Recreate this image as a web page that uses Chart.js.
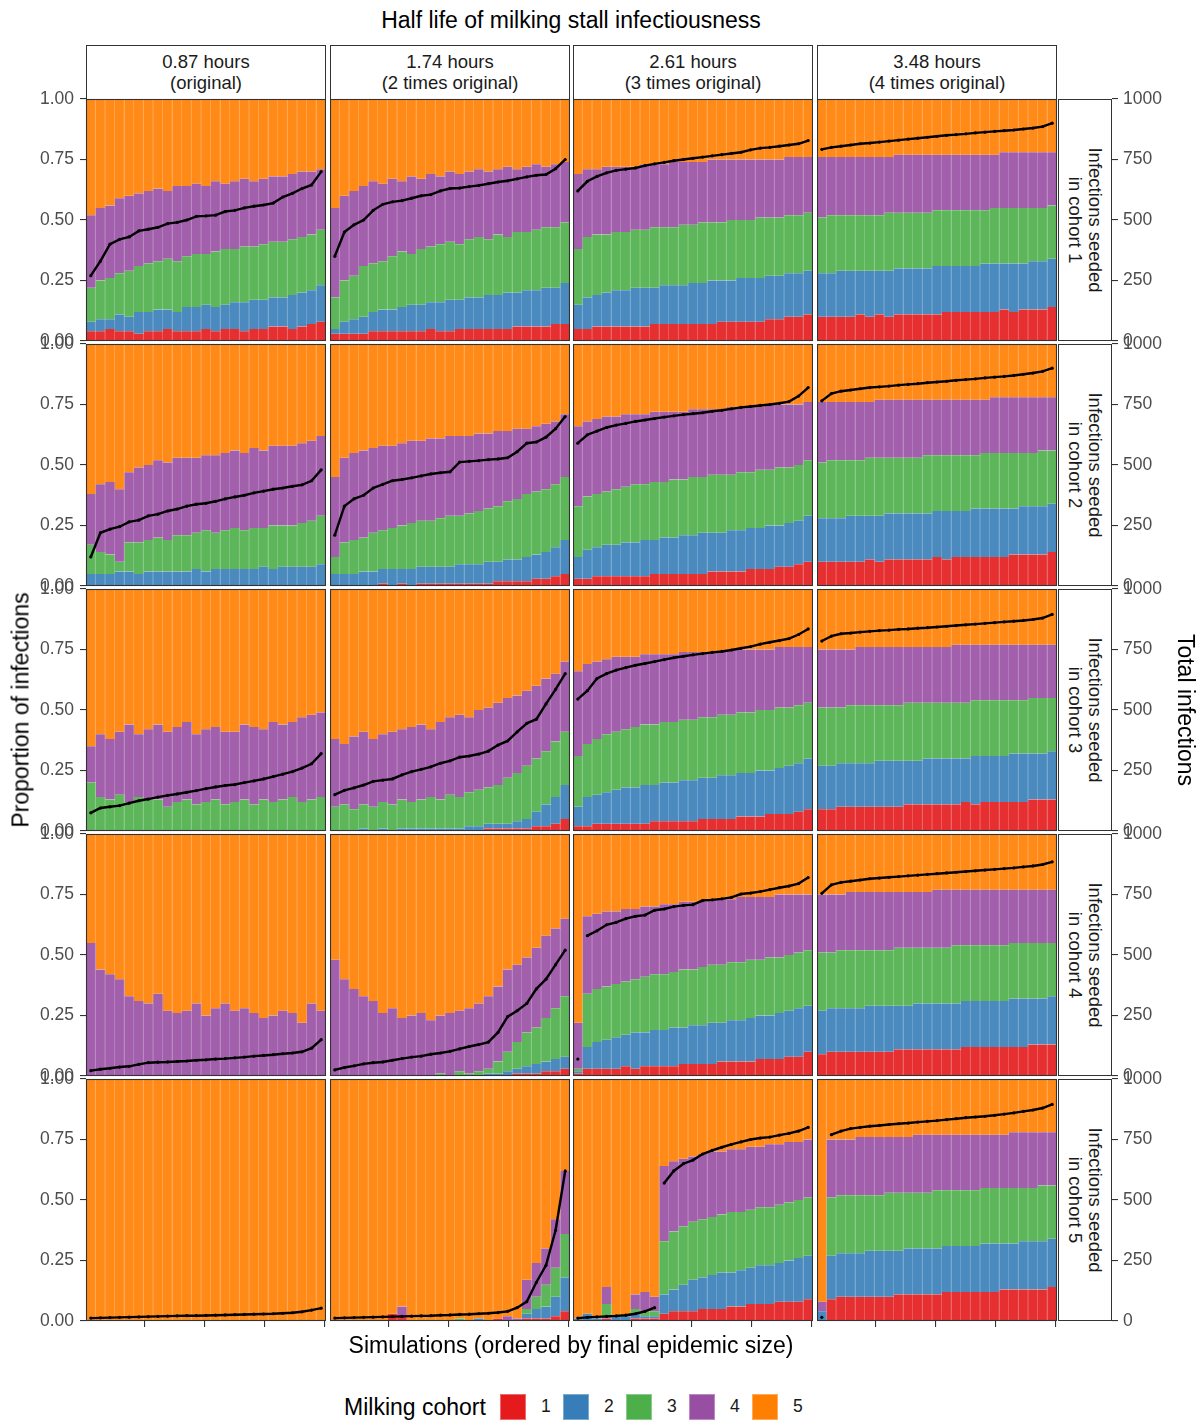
<!DOCTYPE html>
<html>
<head>
<meta charset="utf-8">
<title>Half life of milking stall infectiousness</title>
<script src="https://cdn.jsdelivr.net/npm/chart.js@4.4.1/dist/chart.umd.min.js"></script>
<style>
  body { margin: 0; background: #fff; font-family: "Liberation Sans", Arial, Helvetica, sans-serif; }
  #page { position: relative; width: 1202px; height: 1421px; overflow: hidden; background: #fff; }
  #page canvas { position: absolute; }
  .txt { position: absolute; white-space: nowrap; color: #000; line-height: 1; }
  .strip { position: absolute; box-sizing: border-box; border: 1px solid #333; background: #fff;
           color: #1a1a1a; font-size: 18.5px; line-height: 20.5px; text-align: center;
           display: flex; flex-direction: column; align-items: center; justify-content: center; }
  .rowtxt { position: absolute; width: 242px; height: 54px; color: #1a1a1a; font-size: 18.5px;
            line-height: 20.5px; text-align: center; display: flex; flex-direction: column;
            align-items: center; justify-content: center; transform: translate(-50%, -50%) rotate(90deg); }
  .swatch { position: absolute; width: 26px; height: 26px; box-sizing: border-box; }
</style>
</head>
<body>
<div id="page"></div>
<script>
// facet labels
const colLabels = [['0.87 hours', '(original)'], ['1.74 hours', '(2 times original)'],
                   ['2.61 hours', '(3 times original)'], ['3.48 hours', '(4 times original)']];
const rowLabels = [['Infections seeded', 'in cohort 1'], ['Infections seeded', 'in cohort 2'],
                   ['Infections seeded', 'in cohort 3'], ['Infections seeded', 'in cohort 4'],
                   ['Infections seeded', 'in cohort 5']];
const cohorts = ['1', '2', '3', '4', '5'];

// simulations, grouped in blocks of four (block centres on the 1..100 scale)
const blockSims = [2.5, 6.5, 10.5, 14.5, 18.5, 22.5, 26.5, 30.5, 34.5, 38.5, 42.5, 46.5, 50.5,
                   54.5, 58.5, 62.5, 66.5, 70.5, 74.5, 78.5, 82.5, 86.5, 90.5, 94.5, 98.5];
const xTickSims = [25, 50, 75, 100];
const propTicks = [0, 25, 50, 75, 100];
const propTickLabels = ['0.00', '0.25', '0.50', '0.75', '1.00'];
const totalTicks = [0, 250, 500, 750, 1000];
const totalTickLabels = ['0', '250', '500', '750', '1000'];

// cumulative share (%) at the top of cohorts 1..4, and total infections
// row 1: seeded in cohort 1
const r1c1Top1 = [4,4,5,4,4,3,4,4,5,4,4,4,5,4,5,5,4,5,5,6,6,5,6,7,8];
const r1c1Top2 = [8,9,9,11,10,12,12,13,13,12,14,14,15,14,15,16,16,17,17,18,18,19,20,21,23];
const r1c1Top3 = [22,25,26,28,29,31,32,33,34,33,35,36,36,37,38,38,39,39,40,41,41,42,43,44,46];
const r1c1Top4 = [52,55,56,59,60,61,62,63,62,64,64,65,64,66,65,66,67,66,67,68,68,69,70,70,71];
const r1c1Total = [270,330,400,420,430,455,462,470,485,490,500,515,517,520,535,540,550,557,562,570,595,610,630,645,700];

const r1c2Top1 = [3,3,3,3,4,4,4,4,4,4,5,4,4,5,5,5,5,5,5,6,6,6,6,7,7];
const r1c2Top2 = [5,8,9,10,12,13,13,14,15,15,16,16,17,17,18,18,19,19,20,20,21,21,22,22,24];
const r1c2Top3 = [18,25,27,31,32,33,35,37,36,38,39,40,41,40,42,43,42,44,43,45,45,46,47,47,49];
const r1c2Top4 = [55,60,62,64,66,65,67,66,68,67,69,68,70,69,70,71,70,71,72,71,72,73,72,73,74];
const r1c2Total = [350,450,480,500,540,565,575,580,590,600,605,620,630,632,638,643,650,657,662,670,678,685,688,712,750];

const r1c3Top1 = [5,5,6,6,6,6,6,6,7,7,7,7,7,7,7,8,8,8,8,8,9,9,10,10,11];
const r1c3Top2 = [15,18,19,20,21,21,22,22,22,23,23,23,24,24,25,25,25,26,26,26,27,27,28,28,29];
const r1c3Top3 = [38,43,44,44,45,45,46,46,47,47,47,48,48,49,49,49,50,50,50,51,51,51,52,52,53];
const r1c3Top4 = [69,71,71,72,72,72,72,73,73,73,74,74,74,74,75,75,75,75,75,75,75,75,76,76,76];
const r1c3Total = [620,660,680,695,705,710,715,725,732,738,745,750,755,760,765,770,775,780,790,797,800,805,810,815,828];

const r1c4Top1 = [10,10,10,10,11,10,11,10,11,11,11,11,11,12,12,12,12,12,12,13,12,13,13,13,14];
const r1c4Top2 = [28,28,29,29,29,29,29,29,30,30,30,30,31,31,31,31,31,32,32,32,32,32,33,33,34];
const r1c4Top3 = [51,52,52,52,52,52,52,53,53,53,53,53,54,54,54,54,54,54,55,55,55,55,55,55,56];
const r1c4Top4 = [76,76,76,76,76,76,76,76,77,77,77,77,77,77,77,77,77,77,77,78,78,78,78,78,78];
const r1c4Total = [792,800,805,810,815,818,822,826,830,834,838,842,846,850,853,856,860,863,866,869,872,876,880,886,900];

// row 2: seeded in cohort 2
const r2c1Top1 = [0,0,0,0,0,0,0,0,0,0,0,0,0,0,0,0,0,0,0,0,0,0,0,0,0];
const r2c1Top2 = [5,5,5,6,6,5,6,6,6,6,6,7,6,7,7,7,7,7,8,7,8,8,8,8,9];
const r2c1Top3 = [17,14,13,10,18,18,19,20,19,21,21,22,23,22,23,24,23,24,24,25,25,25,26,27,29];
const r2c1Top4 = [38,42,43,40,47,49,50,52,51,53,53,53,54,54,55,56,55,57,56,58,58,58,59,60,62];
const r2c1Total = [120,220,235,245,265,272,290,297,310,318,330,338,342,350,360,368,375,385,392,400,405,412,418,435,480];

const r2c2Top1 = [0,0,0,0,0,1,0,1,0,1,1,1,1,1,1,1,1,2,2,2,2,3,3,4,5];
const r2c2Top2 = [5,5,5,6,6,7,7,7,7,8,8,8,8,9,9,9,10,10,11,11,12,13,14,16,19];
const r2c2Top3 = [12,18,19,20,22,23,24,25,26,27,27,28,29,29,30,31,32,33,35,36,38,39,40,42,45];
const r2c2Top4 = [45,53,55,56,57,58,58,59,60,60,61,61,62,62,62,63,63,64,64,65,65,66,67,68,71];
const r2c2Total = [210,330,360,375,405,420,435,440,447,455,463,468,472,512,515,518,522,525,530,555,590,595,615,650,700];

const r2c3Top1 = [3,3,4,4,4,4,4,4,5,5,5,5,5,5,6,6,6,6,7,7,7,8,8,9,10];
const r2c3Top2 = [12,15,16,17,17,18,18,19,19,20,20,21,21,22,22,22,23,23,24,24,25,25,26,27,29];
const r2c3Top3 = [33,37,38,39,40,41,42,42,43,43,44,44,45,45,46,46,46,47,47,48,48,49,49,50,52];
const r2c3Top4 = [66,68,69,70,70,71,71,71,72,72,72,72,73,73,73,73,74,74,74,74,75,75,75,75,76];
const r2c3Total = [590,625,640,655,665,672,680,686,692,698,703,708,712,716,722,726,732,738,742,746,750,755,762,785,820];

const r2c4Top1 = [10,10,10,10,10,11,10,11,11,11,11,11,12,11,12,12,12,12,12,12,13,13,13,13,14];
const r2c4Top2 = [28,28,28,29,29,29,29,30,30,30,30,30,31,31,31,31,32,32,32,32,32,33,33,33,34];
const r2c4Top3 = [51,52,52,52,52,53,53,53,53,53,53,54,54,54,54,54,54,55,55,55,55,55,55,56,56];
const r2c4Top4 = [76,76,76,76,76,76,77,77,77,77,77,77,77,77,77,77,77,77,78,78,78,78,78,78,78];
const r2c4Total = [765,795,805,810,815,820,823,826,830,833,836,840,843,846,850,853,856,860,863,866,870,875,880,887,900];

// row 3: seeded in cohort 3
const r3c1Top1 = [0,0,0,0,0,0,0,0,0,0,0,0,0,0,0,0,0,0,0,0,0,0,0,0,0];
const r3c1Top2 = [0,0,0,0,0,0,0,0,0,0,0,0,0,0,0,0,0,0,0,0,0,0,0,0,0];
const r3c1Top3 = [20,14,13,15,12,14,13,13,10,12,13,11,12,13,11,12,13,11,13,12,13,14,12,13,14];
const r3c1Top4 = [35,40,38,41,44,40,42,44,41,43,45,40,42,43,41,41,44,43,42,45,44,45,47,48,49];
const r3c1Total = [75,95,100,105,115,125,132,140,147,153,160,167,175,182,188,192,200,207,215,225,235,245,260,278,320];

const r3c2Top1 = [0,0,0,0,0,0,0,0,0,0,0,0,0,0,0,0,1,1,1,1,1,2,2,3,5];
const r3c2Top2 = [0,0,0,1,0,1,0,1,1,1,1,1,1,1,2,2,3,3,3,4,5,8,11,14,19];
const r3c2Top3 = [10,11,9,11,10,12,11,13,12,13,14,13,15,14,16,17,18,19,22,24,27,30,33,37,41];
const r3c2Top4 = [38,36,39,41,38,40,41,42,43,44,42,45,47,48,47,50,51,53,55,56,58,60,63,65,70];
const r3c2Total = [150,168,178,190,205,210,215,232,245,255,265,280,290,305,310,318,330,355,372,410,445,462,525,585,650];

const r3c3Top1 = [2,2,3,3,3,3,3,3,4,4,4,4,4,5,5,5,5,6,6,6,7,7,7,8,9];
const r3c3Top2 = [10,14,15,16,17,18,18,19,19,20,20,21,21,22,22,23,23,24,24,25,25,26,27,28,30];
const r3c3Top3 = [31,36,38,40,41,42,43,44,44,45,45,46,46,47,47,48,48,49,49,50,50,51,51,52,53];
const r3c3Top4 = [66,69,70,71,72,72,72,73,73,73,73,74,74,74,74,74,75,75,75,75,75,76,76,76,76];
const r3c3Total = [545,580,630,650,665,675,685,692,700,708,716,722,728,733,738,742,748,755,762,772,780,787,795,812,835];

const r3c4Top1 = [9,9,10,10,10,10,10,10,10,11,11,11,11,11,11,12,11,12,12,12,12,12,13,13,13];
const r3c4Top2 = [27,27,28,28,28,28,29,29,29,29,29,30,30,30,30,30,31,31,31,31,32,32,32,32,33];
const r3c4Top3 = [51,51,51,52,52,52,52,52,52,53,53,53,53,53,53,53,54,54,54,54,54,54,55,55,55];
const r3c4Top4 = [75,75,75,75,76,76,76,76,76,76,76,76,76,76,77,77,77,77,77,77,77,77,77,77,77];
const r3c4Total = [785,805,815,818,822,825,828,830,833,835,838,840,843,846,849,852,855,858,861,864,867,870,874,880,895];

// row 4: seeded in cohort 4
const r4c1Top1 = [0,0,0,0,0,0,0,0,0,0,0,0,0,0,0,0,0,0,0,0,0,0,0,0,0];
const r4c1Top2 = [0,0,0,0,0,0,0,0,0,0,0,0,0,0,0,0,0,0,0,0,0,0,0,0,0];
const r4c1Top3 = [0,0,0,0,0,0,0,0,0,0,0,0,0,0,0,0,0,0,0,0,0,0,0,0,0];
const r4c1Top4 = [55,44,42,40,33,31,30,34,27,26,27,30,25,28,30,27,28,26,24,25,27,26,22,30,27];
const r4c1Total = [22,28,32,37,40,48,55,57,58,60,62,65,67,70,72,75,78,82,85,88,92,95,100,115,150];

const r4c2Top1 = [0,0,0,0,0,0,0,0,0,0,0,0,0,0,0,0,0,0,0,1,1,1,2,2,3];
const r4c2Top2 = [0,0,0,0,0,0,0,0,0,0,0,0,0,0,0,0,1,1,2,3,4,5,6,7,8];
const r4c2Top3 = [0,0,0,0,0,0,0,0,0,0,0,1,0,2,1,2,3,6,10,14,18,20,24,28,33];
const r4c2Top4 = [48,40,36,33,31,26,28,24,25,26,23,25,26,27,28,30,33,37,44,46,49,53,58,61,65];
const r4c2Total = [25,35,42,50,55,58,65,72,78,82,90,95,102,112,122,130,140,180,245,270,300,360,400,460,520];

const r4c3Top1 = [1,3,3,3,3,4,3,4,4,4,4,5,5,5,5,6,6,6,6,7,7,7,8,8,10];
const r4c3Top2 = [2,12,14,15,16,17,18,18,19,19,20,20,21,21,22,22,23,23,24,25,25,26,27,28,29];
const r4c3Top3 = [3,34,36,37,38,39,40,41,42,42,43,44,44,45,46,46,47,47,48,48,49,49,50,51,52];
const r4c3Top4 = [22,66,67,68,68,69,69,70,70,71,71,72,72,72,73,73,73,74,74,74,74,75,75,75,75];
const r4c3Total = [70,580,600,625,635,650,660,665,685,690,700,705,708,725,728,732,738,752,756,762,770,778,785,795,820];

const r4c4Top1 = [9,10,10,10,10,10,10,10,11,11,11,11,11,11,11,12,12,12,12,12,12,12,13,13,13];
const r4c4Top2 = [27,28,28,28,28,29,29,29,29,29,30,30,30,30,30,31,31,31,31,31,32,32,32,32,33];
const r4c4Top3 = [51,51,52,52,52,52,52,52,53,53,53,53,53,53,54,54,54,54,54,54,55,55,55,55,55];
const r4c4Top4 = [75,75,75,76,76,76,76,76,76,76,76,76,77,77,77,77,77,77,77,77,77,77,77,77,77];
const r4c4Total = [755,790,800,805,810,815,818,821,824,827,830,833,836,839,842,845,848,851,854,857,860,864,868,874,885];

// row 5: seeded in cohort 5
const r5c1Top1 = [0,0,0,0,0,0,0,0,0,0,0,0,0,0,0,0,0,0,0,0,0,0,0,0,0];
const r5c1Top2 = [0,0,0,0,0,0,0,0,0,0,0,0,0,0,0,0,0,0,0,0,0,0,0,0,0];
const r5c1Top3 = [0,0,0,0,0,0,0,0,0,0,0,0,0,0,0,0,0,0,0,0,0,0,0,0,0];
const r5c1Top4 = [0,0,0,0,0,0,0,0,0,0,0,0,0,0,0,0,0,0,0,0,0,0,0,0,0];
const r5c1Total = [12,13,14,15,16,17,18,19,20,21,22,22,23,24,25,26,27,28,29,30,32,34,38,45,53];

const r5c2Top1 = [0,0,0,0,0,0,3,2,0,0,0,0,0,0,0,0,0,1,0,0,1,1,1,2,4];
const r5c2Top2 = [0,0,0,0,0,0,3,2,0,0,0,0,0,0,0,1,0,1,0,0,3,5,6,10,18];
const r5c2Top3 = [0,0,0,0,0,0,3,2,0,0,0,0,0,1,0,1,0,1,0,0,5,10,15,22,36];
const r5c2Top4 = [0,0,0,0,0,0,3,6,0,0,0,0,0,1,0,1,0,1,2,1,17,24,30,42,62];
const r5c2Total = [12,13,14,15,16,17,18,19,20,21,22,24,25,27,28,30,32,35,40,55,80,160,230,375,620];

const r5c3Top1 = [0,0,0,1,0,0,1,1,1,3,4,4,4,5,5,5,6,6,7,7,7,8,8,8,9];
const r5c3Top2 = [1,3,1,2,2,2,3,2,2,11,13,15,17,18,19,20,20,21,22,23,23,24,25,26,27];
const r5c3Top3 = [1,3,1,7,2,2,5,4,4,33,37,39,41,42,43,44,45,45,46,47,47,48,49,50,51];
const r5c3Top4 = [1,3,1,14,2,2,11,12,10,64,66,67,68,69,70,70,71,71,72,72,73,73,74,74,75];
const r5c3Total = [12,15,17,19,21,24,30,40,55,570,620,650,665,690,705,718,730,740,750,756,760,768,775,785,800];

const r5c4Top1 = [0,9,10,10,10,10,10,10,11,11,11,11,11,12,12,12,12,12,12,13,13,13,13,13,14];
const r5c4Top2 = [4,27,28,28,28,29,29,29,29,30,30,30,30,31,31,31,31,32,32,32,32,33,33,33,34];
const r5c4Top3 = [4,51,52,52,52,52,52,53,53,53,53,53,54,54,54,54,54,55,55,55,55,55,55,56,56];
const r5c4Top4 = [8,75,75,75,76,76,76,76,76,76,77,77,77,77,77,77,77,77,77,77,78,78,78,78,78];
const r5c4Total = [15,770,785,795,800,805,808,812,815,818,822,825,828,832,836,840,843,846,850,855,860,866,872,880,895];

const grid = [
  [[r1c1Top1, r1c1Top2, r1c1Top3, r1c1Top4, r1c1Total], [r1c2Top1, r1c2Top2, r1c2Top3, r1c2Top4, r1c2Total],
   [r1c3Top1, r1c3Top2, r1c3Top3, r1c3Top4, r1c3Total], [r1c4Top1, r1c4Top2, r1c4Top3, r1c4Top4, r1c4Total]],
  [[r2c1Top1, r2c1Top2, r2c1Top3, r2c1Top4, r2c1Total], [r2c2Top1, r2c2Top2, r2c2Top3, r2c2Top4, r2c2Total],
   [r2c3Top1, r2c3Top2, r2c3Top3, r2c3Top4, r2c3Total], [r2c4Top1, r2c4Top2, r2c4Top3, r2c4Top4, r2c4Total]],
  [[r3c1Top1, r3c1Top2, r3c1Top3, r3c1Top4, r3c1Total], [r3c2Top1, r3c2Top2, r3c2Top3, r3c2Top4, r3c2Total],
   [r3c3Top1, r3c3Top2, r3c3Top3, r3c3Top4, r3c3Total], [r3c4Top1, r3c4Top2, r3c4Top3, r3c4Top4, r3c4Total]],
  [[r4c1Top1, r4c1Top2, r4c1Top3, r4c1Top4, r4c1Total], [r4c2Top1, r4c2Top2, r4c2Top3, r4c2Top4, r4c2Total],
   [r4c3Top1, r4c3Top2, r4c3Top3, r4c3Top4, r4c3Total], [r4c4Top1, r4c4Top2, r4c4Top3, r4c4Top4, r4c4Total]],
  [[r5c1Top1, r5c1Top2, r5c1Top3, r5c1Top4, r5c1Total], [r5c2Top1, r5c2Top2, r5c2Top3, r5c2Top4, r5c2Total],
   [r5c3Top1, r5c3Top2, r5c3Top3, r5c3Top4, r5c3Total], [r5c4Top1, r5c4Top2, r5c4Top3, r5c4Top4, r5c4Total]]
];

// look
const FONT = '"Liberation Sans", Arial, Helvetica, sans-serif';
const baseColors = ['#e41a1c', '#377eb8', '#4daf4a', '#984ea3', '#ff7f00'];
const barFills = ['#e62f31', '#4a8abe', '#5eb65b', '#a25fac', '#ff8a17'];
const barStripes = ['#ee6a6b', '#7aaad0', '#8bcb89', '#bb8ac3', '#ffab5a'];
const colX = [86, 330, 573, 817];
const rowY = [99, 344, 589, 834, 1079];
const panelW = 240, panelH = 242;
const leftAxisW = 86, gapW = 55, rightAxisW = 60, padV = 18;

Chart.defaults.font.family = FONT;
const page = document.getElementById('page');

function addDiv(cls, css, html) {
  const d = document.createElement('div');
  if (cls) d.className = cls;
  Object.assign(d.style, css);
  d.innerHTML = html || '';
  page.appendChild(d);
  return d;
}

const panelBorder = {
  id: 'panelBorder',
  afterDatasetsDraw(chart) {
    const { ctx, chartArea: a } = chart;
    ctx.save();
    ctx.strokeStyle = '#333333';
    ctx.lineWidth = 1.1;
    ctx.strokeRect(a.left + 0.5, a.top + 0.5, a.right - a.left - 1, a.bottom - a.top - 1);
    ctx.restore();
  }
};

function tickGrid() {
  return { drawOnChartArea: false, drawTicks: true, tickLength: 6, color: '#333333', tickColor: '#333333', lineWidth: 1.1, offset: false };
}

// fixed box size, only for axes that are shown
function fixWidth(show, w) { return s => { s.width = show ? w : 0; }; }
function fixHeight(show, h) { return s => { s.height = show ? h : 0; }; }

function makePanel(r, c) {
  const [t1, t2, t3, t4, total] = grid[r][c];
  const isLeft = c === 0, isRight = c === 3, isBottom = r === 4;
  const left = colX[c] - (isLeft ? leftAxisW : 0);
  const width = panelW + (isLeft ? leftAxisW : 0) + (isRight ? gapW + rightAxisW : 0);
  const top = rowY[r] - padV;
  const height = panelH + 2 * padV;

  const canvas = document.createElement('canvas');
  canvas.width = width;
  canvas.height = height;
  canvas.style.left = left + 'px';
  canvas.style.top = top + 'px';
  canvas.style.width = width + 'px';
  canvas.style.height = height + 'px';
  page.appendChild(canvas);

  const shares = [
    t1,
    t2.map((v, i) => v - t1[i]),
    t3.map((v, i) => v - t2[i]),
    t4.map((v, i) => v - t3[i]),
    t4.map(v => 100 - v)
  ];

  const datasets = shares.map((vals, k) => ({
    type: 'bar',
    label: cohorts[k],
    data: blockSims.map((x, i) => ({ x, y: vals[i] })),
    backgroundColor: barFills[k],
    borderColor: barStripes[k],
    borderWidth: { top: 0, bottom: 0, left: 0, right: 1 },
    borderSkipped: false,
    barPercentage: 1,
    categoryPercentage: 1,
    yAxisID: 'y',
    order: 1
  }));

  datasets.push({
    type: 'line',
    label: 'Total infections',
    data: blockSims.map((x, i) => ({ x, y: total[i] })),
    yAxisID: 'y2',
    borderColor: '#000',
    backgroundColor: '#000',
    borderWidth: 2.4,
    pointRadius: 1.6,
    pointBorderWidth: 0,
    pointBackgroundColor: '#000',
    tension: 0,
    order: 0,
    segment: {
      borderColor: ctx => Math.abs(ctx.p1.parsed.y - ctx.p0.parsed.y) > 300 ? 'rgba(0,0,0,0)' : '#000'
    }
  });

  const scales = {
    x: {
      type: 'linear', min: 0.5, max: 100.5, offset: false, stacked: true, display: isBottom,
      afterBuildTicks: s => { s.ticks = xTickSims.map(v => ({ value: v })); },
      ticks: { display: false },
      grid: tickGrid(),
      border: { display: false },
      afterFit: fixHeight(isBottom, padV)
    },
    y: {
      type: 'linear', min: 0, max: 100, stacked: true, position: 'left', display: isLeft,
      afterBuildTicks: s => { s.ticks = propTicks.map(v => ({ value: v })); },
      ticks: { callback: (v, i) => propTickLabels[i], color: '#4d4d4d', font: { size: 17.5 }, padding: 6, autoSkip: false },
      grid: tickGrid(),
      border: { display: false },
      afterFit: fixWidth(isLeft, leftAxisW)
    }
  };
  if (isRight) {
    scales.gap = {
      type: 'linear', axis: 'y', position: 'right', weight: 0, display: true,
      ticks: { display: false }, grid: { display: false, drawTicks: false }, border: { display: false },
      afterFit: fixWidth(true, gapW)
    };
  }
  scales.y2 = {
    type: 'linear', min: 0, max: 1000, position: 'right', weight: 1, display: isRight,
    afterBuildTicks: s => { s.ticks = totalTicks.map(v => ({ value: v })); },
    ticks: { callback: (v, i) => totalTickLabels[i], color: '#4d4d4d', font: { size: 17.5 }, padding: 5, autoSkip: false },
    grid: tickGrid(),
    border: { display: false },
    afterFit: fixWidth(isRight, rightAxisW)
  };

  new Chart(canvas, {
    type: 'bar',
    data: { datasets },
    options: {
      responsive: false,
      animation: false,
      events: [],
      layout: { autoPadding: false, padding: { top: padV, bottom: isBottom ? 0 : padV, left: 0, right: 0 } },
      plugins: { legend: { display: false }, tooltip: { enabled: false } },
      scales
    },
    plugins: [panelBorder]
  });
}

// column strips
colLabels.forEach((lines, c) => {
  addDiv('strip', { left: colX[c] + 'px', top: '45px', width: panelW + 'px', height: '55px' },
         lines.map(t => '<div>' + t + '</div>').join(''));
});
// row strips
rowLabels.forEach((lines, r) => {
  addDiv('strip', { left: '1058px', top: rowY[r] + 'px', width: '54px', height: panelH + 'px' }, '');
  addDiv('rowtxt', { left: '1085px', top: (rowY[r] + panelH / 2) + 'px' },
         lines.map(t => '<div>' + t + '</div>').join(''));
});

for (let r = 0; r < 5; r++) {
  for (let c = 0; c < 4; c++) makePanel(r, c);
}

// titles
addDiv('txt', { left: '571px', top: '20px', fontSize: '23px', transform: 'translate(-50%, -50%)' },
       'Half life of milking stall infectiousness');
addDiv('txt', { left: '571px', top: '1345px', fontSize: '23px', transform: 'translate(-50%, -50%)' },
       'Simulations (ordered by final epidemic size)');
addDiv('txt', { left: '21px', top: '710px', fontSize: '23px', transform: 'translate(-50%, -50%) rotate(-90deg)' },
       'Proportion of infections');
addDiv('txt', { left: '1185px', top: '710px', fontSize: '23px', transform: 'translate(-50%, -50%) rotate(90deg)' },
       'Total infections');

// legend
addDiv('txt', { left: '344px', top: '1407px', fontSize: '23px', transform: 'translateY(-50%)' }, 'Milking cohort');
cohorts.forEach((lab, k) => {
  const x = 500 + k * 63;
  addDiv('swatch', { left: x + 'px', top: '1394px', background: baseColors[k], border: '1px solid ' + barStripes[k] });
  addDiv('txt', { left: (x + 41) + 'px', top: '1407px', fontSize: '17.5px', color: '#1a1a1a', transform: 'translateY(-50%)' }, lab);
});
</script>
</body>
</html>
